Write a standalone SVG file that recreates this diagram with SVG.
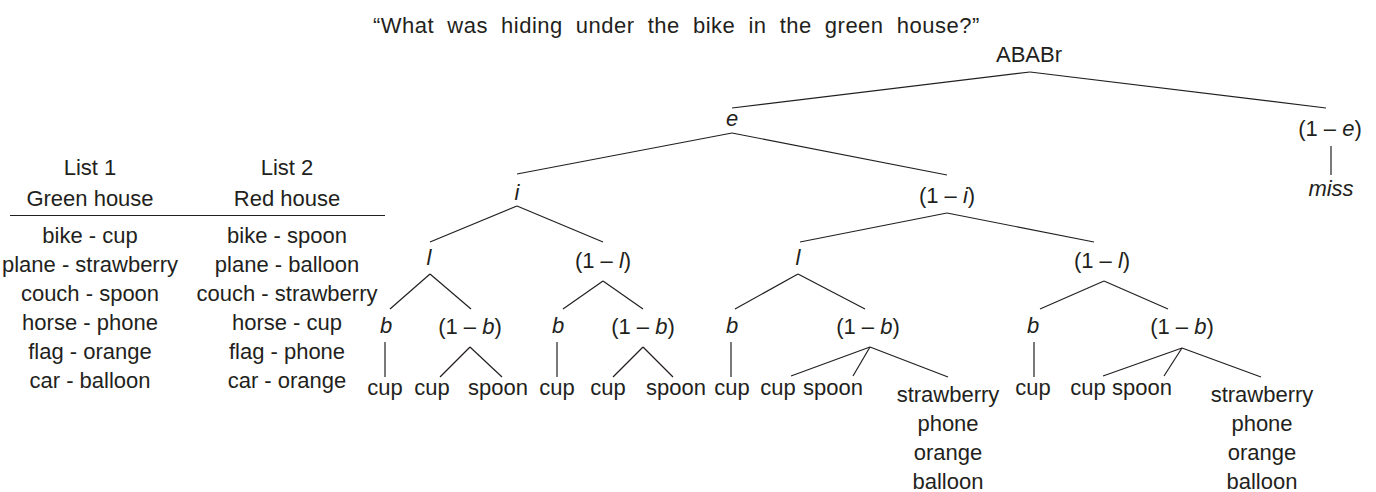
<svg xmlns="http://www.w3.org/2000/svg" width="1376" height="492" viewBox="0 0 1376 492">
<style>
text{font-family:"Liberation Sans",Arial,sans-serif;font-size:22px;fill:#231f20;text-anchor:middle}
.v{font-style:italic}
.title{text-anchor:start;letter-spacing:0.5px;word-spacing:6.5px}
#connectors line{stroke:#231f20;stroke-width:1.2;fill:none}
</style>
<rect width="1376" height="492" fill="#ffffff"/>
<g id="title"><text class="title" x="373" y="33">“What was hiding under the bike in the green house?”</text></g>
<g id="lists">
<text x="90" y="175">List 1</text>
<text x="90" y="206">Green house</text>
<text x="287" y="175">List 2</text>
<text x="287" y="206">Red house</text>
<line x1="10" y1="215.5" x2="385" y2="215.5" stroke="#231f20" stroke-width="1.2"/>
<text x="90" y="243">bike - cup</text>
<text x="90" y="272">plane - strawberry</text>
<text x="90" y="301">couch - spoon</text>
<text x="90" y="330">horse - phone</text>
<text x="90" y="359">flag - orange</text>
<text x="90" y="388">car - balloon</text>
<text x="287" y="243">bike - spoon</text>
<text x="287" y="272">plane - balloon</text>
<text x="287" y="301">couch - strawberry</text>
<text x="287" y="330">horse - cup</text>
<text x="287" y="359">flag - phone</text>
<text x="287" y="388">car - orange</text>
</g>
<g id="connectors">
<line x1="1030" y1="72" x2="732" y2="108"/>
<line x1="1030" y1="72" x2="1326" y2="108"/>
<line x1="1331" y1="146" x2="1331" y2="175"/>
<line x1="732" y1="133" x2="517" y2="174"/>
<line x1="732" y1="133" x2="947" y2="175"/>
<line x1="517" y1="206" x2="430" y2="242"/>
<line x1="517" y1="206" x2="603" y2="242"/>
<line x1="430" y1="274" x2="390" y2="309"/>
<line x1="430" y1="274" x2="471" y2="309"/>
<line x1="385" y1="342" x2="385" y2="377"/>
<line x1="470" y1="347" x2="440" y2="377"/>
<line x1="470" y1="347" x2="502" y2="377"/>
<line x1="603" y1="281" x2="563" y2="309"/>
<line x1="603" y1="281" x2="643" y2="309"/>
<line x1="557" y1="342" x2="557" y2="377"/>
<line x1="643" y1="347" x2="613" y2="377"/>
<line x1="643" y1="347" x2="673" y2="377"/>
<line x1="947" y1="213" x2="800" y2="242"/>
<line x1="947" y1="213" x2="1094" y2="242"/>
<line x1="798" y1="274" x2="735" y2="309"/>
<line x1="798" y1="274" x2="865" y2="309"/>
<line x1="731" y1="342" x2="731" y2="377"/>
<line x1="870" y1="347" x2="791" y2="376"/>
<line x1="870" y1="347" x2="853" y2="376"/>
<line x1="870" y1="347" x2="948" y2="377"/>
<line x1="1104" y1="281" x2="1040" y2="309"/>
<line x1="1104" y1="281" x2="1168" y2="309"/>
<line x1="1034" y1="342" x2="1034" y2="377"/>
<line x1="1182" y1="348" x2="1103" y2="376"/>
<line x1="1182" y1="348" x2="1164" y2="376"/>
<line x1="1182" y1="348" x2="1261" y2="377"/>
</g>
<g id="root"><text x="1029" y="62">ABABr</text></g>
<g id="n-e"><text class="v" x="732" y="126">e</text></g>
<g id="n-1e"><text x="1330" y="136">(1 – <tspan class="v">e</tspan>)</text></g>
<g id="n-miss"><text class="v" x="1331" y="196">miss</text></g>
<g id="n-i"><text class="v" x="517" y="200">i</text></g>
<g id="n-1i"><text x="947" y="203">(1 – <tspan class="v">i</tspan>)</text></g>
<g id="n-l1"><text class="v" x="429" y="265">l</text></g>
<g id="n-1l1"><text x="603" y="268">(1 – <tspan class="v">l</tspan>)</text></g>
<g id="n-l2"><text class="v" x="798" y="265">l</text></g>
<g id="n-1l2"><text x="1102" y="268">(1 – <tspan class="v">l</tspan>)</text></g>
<g id="n-b1"><text class="v" x="386" y="333">b</text></g>
<g id="n-1b1"><text x="470" y="334">(1 – <tspan class="v">b</tspan>)</text></g>
<g id="n-b2"><text class="v" x="558" y="333">b</text></g>
<g id="n-1b2"><text x="643" y="334">(1 – <tspan class="v">b</tspan>)</text></g>
<g id="n-b3"><text class="v" x="732" y="333">b</text></g>
<g id="n-1b3"><text x="868" y="334">(1 – <tspan class="v">b</tspan>)</text></g>
<g id="n-b4"><text class="v" x="1033" y="333">b</text></g>
<g id="n-1b4"><text x="1182" y="334">(1 – <tspan class="v">b</tspan>)</text></g>
<g id="leaves1">
<text x="385" y="395">cup</text>
<text x="432" y="395">cup</text>
<text x="498" y="395">spoon</text>
</g>
<g id="leaves2">
<text x="557" y="395">cup</text>
<text x="608" y="395">cup</text>
<text x="676" y="395">spoon</text>
</g>
<g id="leaves3">
<text x="732" y="395">cup</text>
<text x="778" y="395">cup</text>
<text x="833" y="395">spoon</text>
<text x="948" y="402">strawberry</text>
<text x="948" y="431">phone</text>
<text x="948" y="460">orange</text>
<text x="948" y="489">balloon</text>
</g>
<g id="leaves4">
<text x="1033" y="395">cup</text>
<text x="1088" y="395">cup</text>
<text x="1142" y="395">spoon</text>
<text x="1262" y="402">strawberry</text>
<text x="1262" y="431">phone</text>
<text x="1262" y="460">orange</text>
<text x="1262" y="489">balloon</text>
</g>
</svg>
